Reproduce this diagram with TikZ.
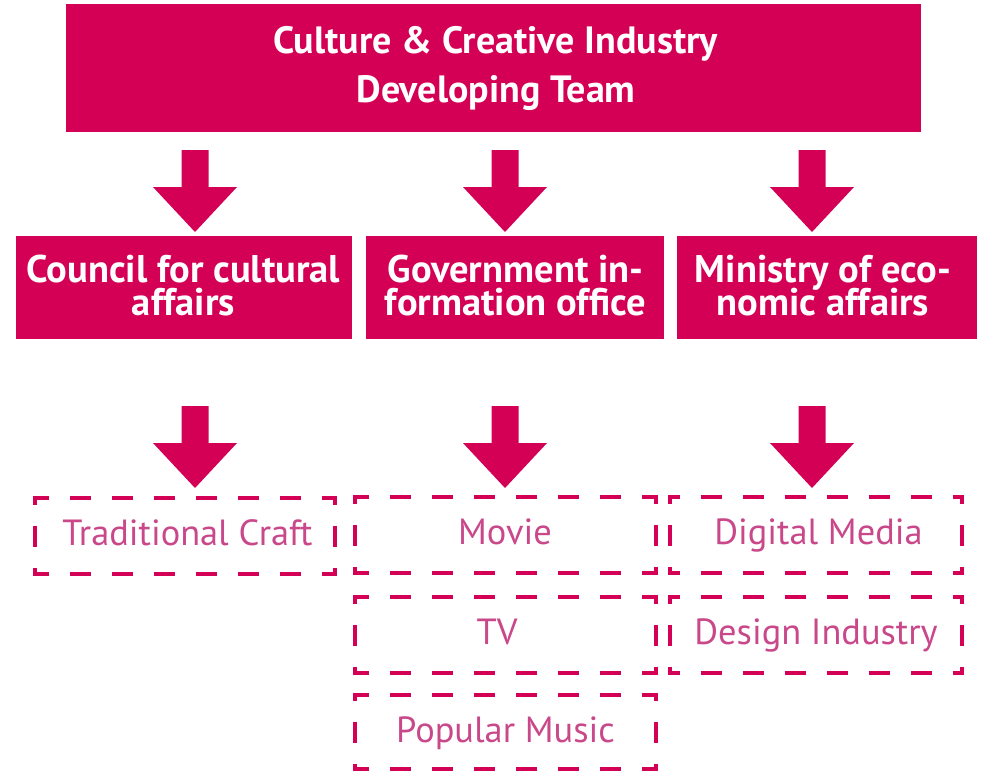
\documentclass[tikz,border=0pt]{standalone}
\usepackage{fontspec}
\setmainfont{PT Sans}
\definecolor{crim}{HTML}{D40055}
\definecolor{softtext}{HTML}{C9488A}
\tikzset{
  headbox/.style={fill=crim, draw=none, inner sep=0pt},
  toptext/.style={text=white, font=\bfseries\fontsize{38}{40}\selectfont, inner sep=0pt, anchor=base},
  midtext/.style={text=white, font=\bfseries\fontsize{38.5}{40}\selectfont, inner sep=0pt, anchor=base},
  leafframe/.style={draw=none, inner sep=0pt},
  leaftext/.style={text=softtext, font=\fontsize{36.4}{40}\selectfont, inner sep=0pt, anchor=base},
  dashside/.style={draw=crim, line width=4pt, line cap=butt},
  blockarrow/.style={fill=crim, draw=none},
}
\newcommand\dside[4]{%
  \pgfmathsetmacro\dsl{veclen((#3)-(#1),(#4)-(#2))}%
  \pgfmathsetmacro\dpa{Mod(10.5-\dsl/2,42)}%
  \pgfmathsetmacro\dpb{Mod(31.5-\dsl/2,42)}%
  \pgfmathsetmacro\dph{\dpa<15?\dpa:\dpb}%
  \draw[dashside, dash pattern=on 21pt off 21pt, dash phase=\dph pt] (#1,#2) -- (#3,#4);}
% name, x1, y1, x2, y2, text x, text
\newcommand\leafbox[7]{%
  \pgfmathsetmacro\lbw{#4-#2}\pgfmathsetmacro\lbh{#5-#3}%
  \pgfmathsetmacro\lbx{(#2+#4)/2}\pgfmathsetmacro\lby{(#3+#5)/2}%
  \pgfmathsetmacro\lbb{#3+47.5}%
  \node[leafframe, minimum width=\lbw pt, minimum height=\lbh pt] (#1) at (\lbx,\lby) {};
  \node[leaftext] (#1-t) at (#6,\lbb) {#7};
  \dside{#2-2}{#3}{#4+2}{#3}%
  \dside{#2-2}{#5}{#4+2}{#5}%
  \dside{#2}{#3-2}{#2}{#5+2}%
  \dside{#4}{#3-2}{#4}{#5+2}%
}
\newcommand\barrow[2]{%
  \fill[blockarrow] (#1-13.5,#2) -- (#1+13.5,#2) -- (#1+13.5,#2+37) -- (#1+42,#2+37)
    -- (#1,#2+82) -- (#1-42,#2+37) -- (#1-13.5,#2+37) -- cycle;}
\begin{document}
\begin{tikzpicture}[x=1pt,y=-1pt]
\useasboundingbox (0,0) rectangle (984,774);
% top box
\node[headbox, minimum width=855pt, minimum height=128pt] (top) at (493.5,68) {};
\node[toptext] (top-a) at (495.5,53) {Culture \& Creative Industry};
\node[toptext] (top-b) at (496,102) {Developing Team};
% middle boxes
\node[headbox, minimum width=336pt, minimum height=103pt] (cca) at (184,287.5) {};
\node[headbox, minimum width=298pt, minimum height=103pt] (gio) at (515,287.5) {};
\node[headbox, minimum width=300pt, minimum height=103pt] (mea) at (827,287.5) {};
\node[midtext] (cca-a) at (183.5,282) {Council for cultural};
\node[midtext] (cca-b) at (183.5,315) {affairs};
\node[midtext] (gio-a) at (515.5,282) {Government in-};
\node[midtext] (gio-b) at (515.5,315) {formation office};
\node[midtext] (mea-a) at (823,282) {Ministry of eco-};
\node[midtext] (mea-b) at (823,315) {nomic affairs};
% arrows
\barrow{195}{150}
\barrow{505}{150}
\barrow{812}{150}
\barrow{195}{406}
\barrow{505}{406}
\barrow{812}{406}
% leaf boxes
\leafbox{craft}{35}{498}{335}{574}{187.5}{Traditional Craft}
\leafbox{movie}{355}{497}{656}{573}{505}{Movie}
\leafbox{tv}{355}{597}{656}{673}{497}{TV}
\leafbox{music}{355}{695}{656}{769}{505.5}{Popular Music}
\leafbox{digital}{670}{497}{962}{573}{818.5}{Digital Media}
\leafbox{design}{670}{597}{962}{673}{816}{Design Industry}
\end{tikzpicture}
\end{document}
